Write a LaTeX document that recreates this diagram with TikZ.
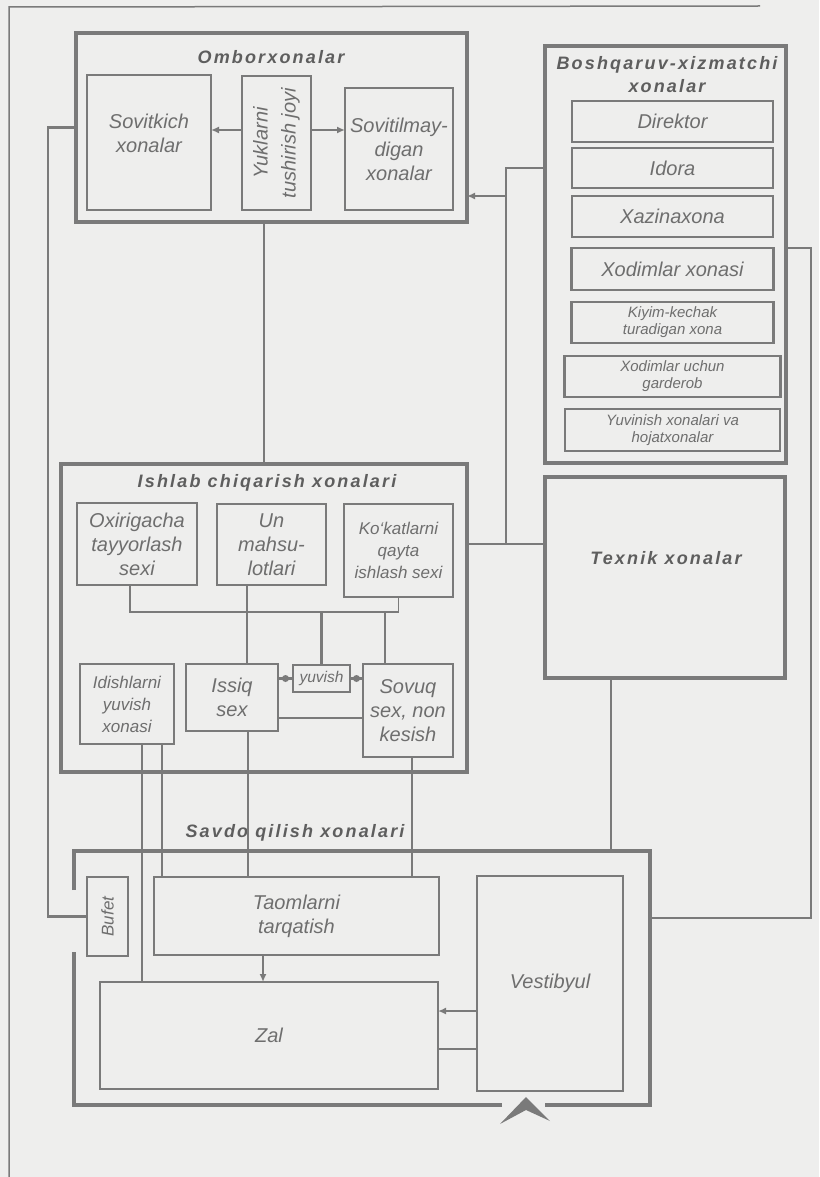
\documentclass[tikz,border=0pt]{standalone}
\usepackage{fontspec}
\setmainfont{Liberation Sans}
\newfontfamily\titlefamily[LetterSpace=12]{Liberation Sans}
\usepackage{tikz}
\usetikzlibrary{arrows.meta,positioning}
\definecolor{paper}{HTML}{EEEEED}
\definecolor{wall}{HTML}{7A7A7A}
\definecolor{ink}{HTML}{6E6E6E}
\definecolor{headink}{HTML}{5E5E5E}
\newcommand{\roomfont}{\fontsize{20}{24}\selectfont\itshape}
\newcommand{\smallroomfont}{\fontsize{17}{22}\selectfont\itshape}
\newcommand{\tinyroomfont}{\fontsize{15.5}{18}\selectfont\itshape}

\begin{document}
\begin{tikzpicture}[x=1pt, y=-1pt,
  room/.style={draw=wall, line width=2.8pt, inner sep=0pt, outer sep=0pt,
               align=center, text=ink, font=\roomfont},
  group/.style={room, line width=3.2pt},
  office/.style={room, line width=2.2pt},
  head/.style={text=headink, inner sep=0pt, align=center,
               font=\titlefamily\fontsize{18}{23}\selectfont\bfseries\itshape},
  link/.style={wall, line width=2.8pt},
  fine/.style={wall, line width=1.5pt},
  outline/.style={wall, line width=3.2pt},
  arr/.style={wall, line width=2.2pt, -{Latex[length=8pt,width=7pt]}},
  dot/.style={circle, fill=wall, inner sep=0pt, minimum size=7pt}
]
\fill[paper] (0,0) rectangle (819,1177);
\useasboundingbox (0,0) rectangle (819,1177);
\draw[fine] (9,1177) -- (9,7) -- (760,6);

% storage
\node[group, minimum width=391pt, minimum height=189pt] (ombor) at (271.5,127.5) {};
\node[head] (omborT) at (271,57) {Omborxonalar};
\node[room, minimum width=124pt, minimum height=135pt] (sovit) at (149,142.5) {};
\node[text=ink, align=center, font=\roomfont] (sovitT) at (149,133) {Sovitkich\\xonalar};
\node[room, minimum width=69pt, minimum height=134pt] (yuk) at (276.5,143) {};
\node[rotate=90, text=ink, align=center, font=\fontsize{20}{28}\selectfont\itshape] (yukT) at (yuk) {Yuklarni\\tushirish joyi};
\node[room, minimum width=108pt, minimum height=122pt] (sovm) at (399,149) {Sovitilmay-\\digan\\xonalar};
\draw[arr] ([yshift=13pt]yuk.west) -- ([yshift=13pt]yuk.west -| sovit.east);
\draw[arr] ([yshift=13pt]yuk.east) -- ([yshift=13pt]yuk.east -| sovm.west);

% management
\node[group, minimum width=241pt, minimum height=417pt] (boshq) at (665.5,254.5) {};
\node[head] (boshqT) at (667,75) {Boshqaruv-xizmatchi\\xonalar};
\node[office, minimum width=201pt, minimum height=41pt] (direktor) at (672.5,121.5) {Direktor};
\node[office, minimum width=201pt, minimum height=40pt, below=6pt of direktor] (idora) {Idora};
\node[office, minimum width=201pt, minimum height=41pt, below=8pt of idora] (xazina) {Xazinaxona};
\node[office, minimum width=202pt, minimum height=42pt, below=11pt of xazina] (xodim) {Xodimlar xonasi};
\node[office, minimum width=202pt, minimum height=41pt, below=12pt of xodim,
      font=\fontsize{15}{17}\selectfont\itshape] (kiyim) {Kiyim-kechak\\turadigan xona};
\node[office, minimum width=216pt, minimum height=41pt, below=13pt of kiyim,
      font=\fontsize{15}{17}\selectfont\itshape] (garderob) {Xodimlar uchun\\garderob};
\node[office, minimum width=215pt, minimum height=42pt, below=12pt of garderob,
      font=\fontsize{15}{17}\selectfont\itshape] (yuvin) {Yuvinish xonalari va\\hojatxonalar};

% technical
\node[group, minimum width=240pt, minimum height=201pt] (texnik) at (665,577.5) {};
\node[head] (texnikT) at (666,558) {Texnik xonalar};

% production
\node[group, minimum width=406pt, minimum height=308pt] (ishlab) at (264,618) {};
\node[head] (ishlabT) at (267,483) {Ishlab chiqarish xonalari};
\node[room, minimum width=120pt, minimum height=82pt] (oxir) at (137,544) {Oxirigacha\\tayyorlash\\sexi};
\node[room, minimum width=109pt, minimum height=81pt] (un) at (271.5,544.5) {Un\\mahsu-\\lotlari};
\node[room, minimum width=109pt, minimum height=93pt, font=\smallroomfont] (kokat) at (398.5,550.5) {Ko‘katlarni\\qayta\\ishlash sexi};
\node[room, minimum width=94pt, minimum height=80pt, font=\smallroomfont] (idish) at (127,704) {Idishlarni\\yuvish\\xonasi};
\node[room, minimum width=92pt, minimum height=67pt] (issiq) at (232,697.5) {Issiq\\sex};
\node[room, minimum width=57pt, minimum height=27pt, line width=2.2pt, font=\tinyroomfont] (yuvish) at (321.5,678.5) {yuvish};
\node[room, minimum width=90pt, minimum height=93pt] (sovuq) at (408,710.5) {Sovuq\\sex, non\\kesish};

% trade
\node[head] (savdoT) at (295,833) {Savdo qilish xonalari};
\node[inner sep=0pt, outer sep=0pt, minimum width=576pt, minimum height=254pt] (savdo) at (362,978) {};
\draw[outline] ([yshift=-39pt]savdo.north west) -- (savdo.north west) -- (savdo.north east)
  -- (savdo.south east) -- ([xshift=-105pt]savdo.south east);
\draw[outline] ([xshift=428pt]savdo.south west) -- (savdo.south west) -- ([yshift=153pt]savdo.south west);
\node[room, minimum width=41pt, minimum height=79pt] (bufet) at (107.5,916.5) {};
\node[rotate=90, text=ink, font=\smallroomfont] (bufetT) at (bufet) {Bufet};
\node[room, minimum width=285pt, minimum height=78pt] (taom) at (296.5,916) {Taomlarni\\tarqatish};
\node[room, minimum width=338pt, minimum height=107pt] (zal) at (269,1035.5) {Zal};
\node[room, minimum width=146pt, minimum height=215pt] (vest) at (550,983.5) {Vestibyul};
\fill[wall] (500,1124) -- (526,1097) -- (550,1121) -- (526,1110) -- cycle;

% connectors
\coordinate (wbus) at (48,0);
\coordinate (ebus) at (506,544);
\coordinate (rbus) at (811,918);
\coordinate (tbus) at (611,0);
\coordinate (kbus) at (0,612);
\coordinate (ubus) at (247,0);
\coordinate (sbus) at (263,0);
\draw[link] (ombor.west) -- (ombor.west -| wbus) |- (bufet.west);
\draw[link] (ishlab.north) -- (ishlab.north |- ombor.south);
\draw[link] ([yshift=86.5pt]boshq.west) -| (ebus);
\draw[link] (ishlab.east |- ebus) -- (texnik.west |- ebus);
\draw[arr] ([yshift=58.5pt]boshq.west -| ebus) -- ([yshift=58.5pt]boshq.west -| ombor.east);
\draw[link] ([yshift=6.5pt]boshq.east) -| (rbus) -- (rbus -| savdo.east);
\draw[link] (texnik.south -| tbus) -- (savdo.north -| tbus);
\draw[fine] ([xshift=-7pt]oxir.south) |- (kbus -| kokat.south) -- (kokat.south);
\draw[link] (yuvish.north) -- (yuvish.north |- kbus);
\draw[link] ([xshift=-23pt]sovuq.north) -- ([xshift=-23pt]sovuq.north |- kbus);
\draw[link] (un.south -| ubus) -- (issiq.north -| ubus);
\draw[link] (yuvish.west) -- node[dot] {} (yuvish.west -| issiq.east);
\draw[link] (yuvish.east) -- node[dot] {} (yuvish.east -| sovuq.west);
\draw[link] ([yshift=-20.5pt]issiq.east) -- ([yshift=-20.5pt]issiq.east -| sovuq.west);
\draw[link] ([xshift=15pt]idish.south) -- ([xshift=15pt]idish.south |- zal.north);
\draw[link] ([xshift=35pt]idish.south) -- ([xshift=35pt]idish.south |- taom.north);
\draw[link] ([xshift=16pt]issiq.south) -- ([xshift=16pt]issiq.south |- taom.north);
\draw[link] ([xshift=4pt]sovuq.south) -- ([xshift=4pt]sovuq.south |- taom.north);
\draw[arr] (taom.south -| sbus) -- (zal.north -| sbus);
\draw[arr] ([yshift=24.5pt]zal.east -| vest.west) -- ([yshift=24.5pt]zal.east);
\draw[link] ([yshift=-13.5pt]zal.east) -- ([yshift=-13.5pt]zal.east -| vest.west);
\end{tikzpicture}
\end{document}
